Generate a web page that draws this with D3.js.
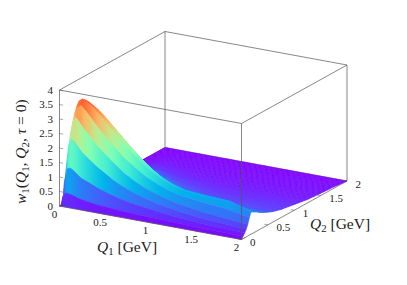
<!DOCTYPE html>
<html>
<head>
<meta charset="utf-8">
<script src="https://cdn.jsdelivr.net/npm/d3@7"></script>
<style>
  html, body { margin: 0; padding: 0; background: #fff; }
  svg { display: block; }
  text { font-family: "Liberation Serif", serif; fill: #222; }
</style>
</head>
<body>
<svg id="chart" width="407" height="285"></svg>
<script>
var q1Values = [0, 0.02, 0.05, 0.08, 0.11, 0.15, 0.2, 0.27, 0.35, 0.5, 0.62, 0.75, 0.87, 1, 1.12, 1.25, 1.5, 1.75, 2];
var q2Values = [0, 0.03, 0.06, 0.09, 0.12, 0.15, 0.18, 0.21, 0.25, 0.3, 0.4, 0.5, 0.6, 0.75, 1, 1.25, 1.5, 1.75, 2];

// w1, one row per q2 value, one column per q1 value
var w1Rows = [
  [0, 0, 0, 0, 0, 0, 0, 0, 0, 0, 0, 0, 0, 0, 0, 0, 0, 0, 0],
  [0, 0.3, 0.45, 0.44, 0.42, 0.38, 0.34, 0.3, 0.26, 0.22, 0.19, 0.17, 0.155, 0.14, 0.13, 0.12, 0.1, 0.09, 0.08],
  [0, 0.8, 1.25, 1.3, 1.25, 1.15, 1.02, 0.93, 0.82, 0.66, 0.56, 0.48, 0.42, 0.37, 0.32, 0.28, 0.22, 0.19, 0.16],
  [0, 1.15, 2.05, 2.27, 2.2, 2.05, 1.85, 1.68, 1.48, 1.18, 0.98, 0.82, 0.7, 0.6, 0.52, 0.45, 0.36, 0.31, 0.26],
  [0, 1.3, 2.4, 2.85, 3.0, 2.85, 2.65, 2.42, 2.12, 1.72, 1.42, 1.18, 1.0, 0.86, 0.75, 0.66, 0.54, 0.47, 0.4],
  [0, 1.38, 2.6, 3.1, 3.3, 3.4, 3.25, 3.0, 2.7, 2.22, 1.86, 1.58, 1.34, 1.16, 1.02, 0.92, 0.82, 0.76, 0.6],
  [0, 1.4, 2.7, 3.25, 3.5, 3.6, 3.52, 3.35, 3.12, 2.62, 2.25, 1.88, 1.58, 1.34, 1.18, 1.06, 1.0, 0.98, 0.76],
  [0, 1.35, 2.6, 3.15, 3.42, 3.55, 3.5, 3.36, 3.15, 2.65, 2.28, 1.9, 1.6, 1.35, 1.18, 1.06, 1.0, 0.96, 0.74],
  [0, 1.2, 2.35, 2.9, 3.18, 3.35, 3.35, 3.25, 3.05, 2.58, 2.2, 1.82, 1.52, 1.26, 1.1, 0.98, 0.88, 0.82, 0.7],
  [0, 1.05, 2.05, 2.6, 2.9, 3.1, 3.12, 3.05, 2.88, 2.42, 2.05, 1.68, 1.38, 1.13, 0.98, 0.87, 0.76, 0.7, 0.65],
  [0, 0.8, 1.6, 2.1, 2.4, 2.6, 2.65, 2.6, 2.45, 2.02, 1.66, 1.35, 1.1, 0.9, 0.77, 0.68, 0.6, 0.55, 0.53],
  [0, 0.6, 1.2, 1.65, 1.95, 2.15, 2.25, 2.2, 2.08, 1.68, 1.34, 1.07, 0.86, 0.71, 0.62, 0.55, 0.48, 0.46, 0.44],
  [0, 0.42, 0.85, 1.2, 1.45, 1.65, 1.72, 1.7, 1.6, 1.28, 1.0, 0.78, 0.63, 0.54, 0.48, 0.44, 0.39, 0.37, 0.36],
  [0, 0.25, 0.5, 0.72, 0.9, 1.05, 1.12, 1.12, 1.05, 0.84, 0.68, 0.55, 0.46, 0.4, 0.36, 0.33, 0.3, 0.29, 0.28],
  [0, 0.1, 0.2, 0.3, 0.4, 0.48, 0.54, 0.55, 0.52, 0.42, 0.35, 0.3, 0.26, 0.24, 0.22, 0.21, 0.2, 0.2, 0.2],
  [0, 0.04, 0.08, 0.13, 0.17, 0.21, 0.24, 0.25, 0.24, 0.2, 0.17, 0.15, 0.14, 0.13, 0.125, 0.12, 0.12, 0.12, 0.12],
  [0, 0.02, 0.03, 0.05, 0.07, 0.08, 0.1, 0.1, 0.1, 0.09, 0.085, 0.08, 0.075, 0.07, 0.07, 0.07, 0.07, 0.07, 0.08],
  [0, 0.01, 0.01, 0.02, 0.02, 0.03, 0.04, 0.04, 0.04, 0.04, 0.04, 0.04, 0.04, 0.04, 0.04, 0.04, 0.04, 0.05, 0.05],
  [0, 0, 0, 0, 0, 0, 0, 0, 0, 0, 0, 0, 0, 0, 0, 0, 0, 0, 0]
];

var q1Ticks = [0, 0.5, 1, 1.5, 2];
var q2Ticks = [0, 0.5, 1, 1.5, 2];
var zTicks = [0, 0.5, 1, 1.5, 2, 2.5, 3, 3.5, 4];

var paletteStops = [0, 0.5, 1, 1.5, 2, 2.5, 3, 3.5, 4];
var paletteColors = ['#8000ff', '#4062fa', '#00b4ec', '#40ecd4', '#80ffb4', '#bfec8e', '#ffb462', '#ff6232', '#ff0000'];

// oblique projection of the box, each scale gives the pixel shift along one data axis
var xFromQ1 = d3.scaleLinear().domain([0, 2]).range([0, 182]);
var yFromQ1 = d3.scaleLinear().domain([0, 2]).range([0, 33.5]);
var xFromQ2 = d3.scaleLinear().domain([0, 2]).range([0, 105.5]);
var yFromQ2 = d3.scaleLinear().domain([0, 2]).range([0, -58.5]);
var yFromZ = d3.scaleLinear().domain([0, 4]).range([0, -116]);
var originX = 59.5, originY = 206;
var color = d3.scaleLinear().domain(paletteStops).range(paletteColors);

function project(q1, q2, z) {
  return [originX + xFromQ1(q1) + xFromQ2(q2), originY + yFromQ1(q1) + yFromQ2(q2) + yFromZ(z)];
}

// value between the table points, only used to shade the surface finely
function w1At(q1, q2) {
  var i = Math.min(d3.bisectRight(q1Values, q1) - 1, q1Values.length - 2);
  var j = Math.min(d3.bisectRight(q2Values, q2) - 1, q2Values.length - 2);
  var u = (q1 - q1Values[i]) / (q1Values[i + 1] - q1Values[i]);
  var v = (q2 - q2Values[j]) / (q2Values[j + 1] - q2Values[j]);
  var near = d3.interpolateNumber(w1Rows[j][i], w1Rows[j][i + 1])(u);
  var far = d3.interpolateNumber(w1Rows[j + 1][i], w1Rows[j + 1][i + 1])(u);
  return d3.interpolateNumber(near, far)(v);
}

function refine(values, step) {
  var out = [];
  d3.pairs(values).forEach(function(p) {
    var n = Math.ceil((p[1] - p[0]) / step - 1e-9);
    d3.range(n).forEach(function(k) { out.push(p[0] + (p[1] - p[0]) * k / n); });
  });
  out.push(values[values.length - 1]);
  return out;
}

var svg = d3.select('#chart');
var defs = svg.append('defs');
var line = d3.line();

function edge(parent, a, b, width) {
  parent.append('path')
    .attr('d', line([project(a[0], a[1], a[2]), project(b[0], b[1], b[2])]))
    .attr('fill', 'none')
    .attr('stroke', '#555')
    .attr('stroke-width', width || 0.7);
}

// box edges behind the surface
var back = svg.append('g');
edge(back, [0, 2, 0], [0, 2, 4]);
edge(back, [0, 2, 4], [2, 2, 4]);
edge(back, [0, 2, 4], [0, 0, 4]);
edge(back, [2, 2, 0], [2, 2, 4]);
edge(back, [0, 0, 0], [0, 2, 0]);
edge(back, [0, 2, 0], [2, 2, 0]);

// one ribbon per q2 step, far ribbon first so nearer ones paint over.
// colour runs along q1 as a gradient, that keeps the ribbon free of seams
var q1Mesh = refine(q1Values, 0.05);
var q2Mesh = refine(q2Values, 0.03);
var ribbons = svg.append('g');
d3.range(q2Mesh.length - 2, -1, -1).forEach(function(j) {
  var nearQ2 = q2Mesh[j], farQ2 = q2Mesh[j + 1], midQ2 = (nearQ2 + farQ2) / 2;
  var id = 'ribbon' + j;
  var gradient = defs.append('linearGradient')
    .attr('id', id)
    .attr('gradientUnits', 'userSpaceOnUse')
    .attr('x1', project(0, midQ2, 0)[0]).attr('y1', 0)
    .attr('x2', project(2, midQ2, 0)[0]).attr('y2', 0);
  gradient.selectAll('stop').data(q1Mesh).join('stop')
    .attr('offset', function(q) { return q / 2; })
    .attr('stop-color', function(q) { return color((w1At(q, nearQ2) + w1At(q, farQ2)) / 2); });
  var outline = q1Mesh.map(function(q) { return project(q, nearQ2, w1At(q, nearQ2)); })
    .concat(q1Mesh.slice().reverse().map(function(q) { return project(q, farQ2, w1At(q, farQ2)); }));
  ribbons.append('path')
    .attr('d', line(outline) + 'Z')
    .attr('fill', 'url(#' + id + ')')
    .attr('stroke', 'url(#' + id + ')')
    .attr('stroke-width', 0.5);
});

// box edges in front of the surface
var front = svg.append('g');
edge(front, [0, 0, 0], [0, 0, 4]);
edge(front, [0, 0, 4], [2, 0, 4]);
edge(front, [2, 0, 4], [2, 2, 4]);
edge(front, [2, 0, 0], [2, 0, 4]);
edge(front, [0, 0, 0], [2, 0, 0]);
edge(front, [2, 0, 0], [2, 2, 0]);

// small inward tick marks
zTicks.forEach(function(t) { edge(front, [0, 0, t], [0.04, 0, t], 0.5); });
q1Ticks.forEach(function(t) { edge(front, [t, 0, 0], [t, 0.07, 0], 0.5); });
q2Ticks.forEach(function(t) { edge(front, [2, t, 0], [1.96, t, 0], 0.5); });

var labels = svg.append('g').attr('font-size', 11);
labels.selectAll('.z-tick').data(zTicks).join('text')
  .attr('class', 'z-tick')
  .attr('text-anchor', 'end')
  .attr('x', function(t) { return project(0, 0, t)[0] - 6.5; })
  .attr('y', function(t) { return project(0, 0, t)[1] + 3.5; })
  .text(String);
labels.selectAll('.q1-tick').data(q1Ticks).join('text')
  .attr('class', 'q1-tick')
  .attr('text-anchor', 'middle')
  .attr('x', function(t) { return project(t, 0, 0)[0] - 5; })
  .attr('y', function(t) { return project(t, 0, 0)[1] + 11.5; })
  .text(String);
labels.selectAll('.q2-tick').data(q2Ticks).join('text')
  .attr('class', 'q2-tick')
  .attr('x', function(t) { return project(2, t, 0)[0] + 8.5; })
  .attr('y', function(t) { return project(2, t, 0)[1] + 6.5; })
  .text(String);

// writes a label from [text, style] runs, style: i italic, s subscript
function richText(parent, x, y, size, runs, rotate) {
  var el = parent.append('text')
    .attr('font-size', size)
    .attr('transform', 'translate(' + x + ',' + y + ')' + (rotate ? ' rotate(' + rotate + ')' : ''));
  var lowered = false;
  runs.forEach(function(r) {
    var sub = r[1] === 's';
    el.append('tspan')
      .attr('font-style', r[1] === 'i' ? 'italic' : 'normal')
      .attr('font-size', sub ? size * 0.7 : size)
      .attr('dy', sub ? size * 0.22 : (lowered ? -size * 0.22 : 0))
      .text(r[0]);
    lowered = sub;
  });
  return el;
}

richText(svg, 97, 251.5, 15.5, [['Q', 'i'], ['1', 's'], ['\u00a0[GeV]', '']]);
richText(svg, 310, 228.5, 15.5, [['Q', 'i'], ['2', 's'], ['\u00a0[GeV]', '']]);
richText(svg, 26, 204, 15.5, [
  ['w', 'i'], ['1', 's'], ['(', ''], ['Q', 'i'], ['1', 's'], [',\u00a0', ''],
  ['Q', 'i'], ['2', 's'], [',\u00a0', ''], ['\u03c4', 'i'], ['\u00a0=\u00a00)', '']
], -90);
</script>
</body>
</html>
